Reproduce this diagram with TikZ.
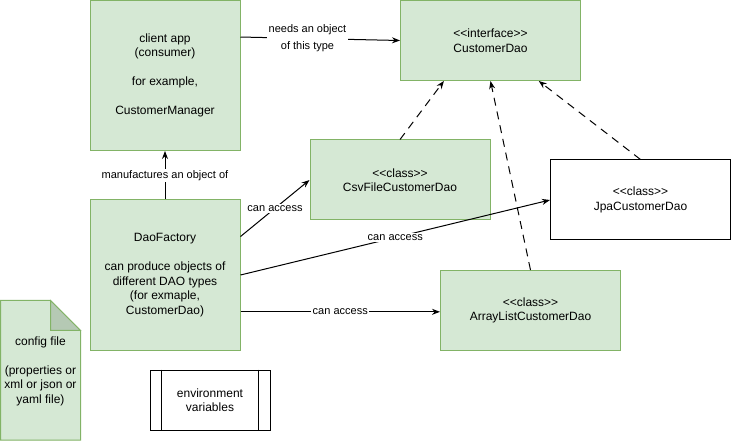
\documentclass[tikz,border=0pt]{standalone}
\usepackage{fontspec}
\setmainfont{Liberation Sans}[Ligatures=TeXOff]
\usetikzlibrary{arrows.meta}
\definecolor{boxfill}{HTML}{D5E8D4}
\definecolor{boxline}{HTML}{82B366}
\definecolor{foldfill}{HTML}{B5C9B4}
\begin{document}
\begin{tikzpicture}[x=0.75pt, y=-0.75pt, line width=0.75pt, font=\fontsize{9}{10.9}\selectfont]
	\tikzset{
		greenbox/.style={draw=boxline, fill=boxfill, align=center, inner sep=0pt},
		whitebox/.style={draw=black, fill=white, align=center, inner sep=0pt},
		uses/.style={-{Stealth[length=6pt, width=4.5pt]}, black},
		impl/.style={uses, dash pattern=on 6pt off 4.5pt},
		lbl/.style={fill=white, inner sep=1pt, align=center, font=\fontsize{8.25}{13}\selectfont}
	}
	\useasboundingbox (0,0) rectangle (731,441);
	% classes and interface
	\node [greenbox, minimum width=112.5pt, minimum height=112.5pt] (client) at (165,75.5)
		{client app\\(consumer)\\[10.9pt]for example,\\[10.9pt]CustomerManager};
	\node [greenbox, minimum width=112.5pt, minimum height=112.5pt] (factory) at (165,275)
		{DaoFactory\\[10.9pt]can produce objects of\\different DAO types\\(for exmaple,\\CustomerDao)};
	\node [greenbox, minimum width=135pt, minimum height=60pt] (cdao) at (490.5,40.5)
		{<<interface>>\\CustomerDao};
	\node [greenbox, minimum width=135pt, minimum height=60pt] (csv) at (400,180)
		{<<class>>\\CsvFileCustomerDao};
	\node [whitebox, minimum width=135pt, minimum height=60pt] (jpa) at (640.5,200)
		{<<class>>\\JpaCustomerDao};
	\node [greenbox, minimum width=135pt, minimum height=60pt] (alist) at (530.5,310.5)
		{<<class>>\\ArrayListCustomerDao};
	% config file (note) and environment variables
	\filldraw [draw=boxline, fill=boxfill] (0.5,300.5) -- (50.5,300.5) -- (80.5,330.5) -- (80.5,440) -- (0.5,440) -- cycle;
	\filldraw [draw=boxline, fill=foldfill] (50.5,300.5) -- (50.5,330.5) -- (80.5,330.5) -- cycle;
	\node [align=center] (config) at (40.5,371)
		{config file\\[10.9pt](properties or\\xml or json or\\yaml file)};
	\node [whitebox, minimum width=90pt, minimum height=45pt] (env) at (210,400) {environment\\variables};
	\draw ([xshift=9pt]env.north west) -- ([xshift=9pt]env.south west);
	\draw ([xshift=-9pt]env.north east) -- ([xshift=-9pt]env.south east);
	% connectors
	\draw [uses] (client.27) -- node [lbl, pos=0.42] {needs an object\\of this type} (cdao.west);
	\draw [uses] (factory.north) -- node [lbl] {manufactures an object of} (client.south);
	\draw [uses] (factory.27) -- node [lbl] {can access} (csv.west);
	\draw [uses] (factory.east) -- node [lbl] {can access} (jpa.west);
	\draw [uses] (factory.-26) -- node [lbl] {can access} (alist.west |- factory.-26);
	\draw [impl] (csv.north) -- (cdao.-139);
	\draw [impl] (alist.north) -- (cdao.south);
	\draw [impl] (jpa.north) -- (cdao.-40);
\end{tikzpicture}
\end{document}
